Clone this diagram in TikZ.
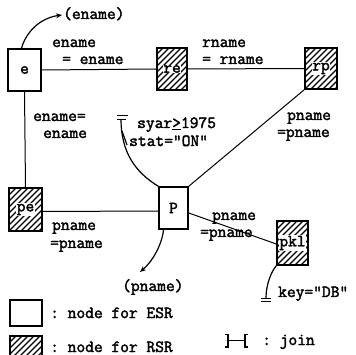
\documentclass[tikz,border=0pt]{standalone}
\usepackage{fontspec}
\setmonofont{Latin Modern Mono}[FakeBold=2.2]
\usetikzlibrary{calc,arrows.meta}
\tikzset{
  txt/.style={anchor=base west, inner sep=0pt, font=\ttfamily\fontsize{17}{17}\selectfont},
  nbox/.style={draw, line width=1.5pt, inner sep=0pt, font=\ttfamily\fontsize{17}{17}\selectfont},
  hatched/.style={path picture={\foreach \k in {-12,...,12}{\draw[line width=1.1pt] ($(path picture bounding box.south west)+(\k*6pt,0pt)$) -- ++(70pt,70pt);}}},
  edge/.style={line width=1pt},
  curve/.style={line width=1.2pt},
  arr/.style={curve, -{Stealth[length=6pt,width=5pt]}},
  bars/.style={line width=0.9pt}
}
\newcommand{\wlab}[1]{{\setlength{\fboxsep}{0.5pt}\colorbox{white}{#1}}}
\begin{document}
\begin{tikzpicture}[x=1pt,y=-1pt]
\useasboundingbox (0,0) rectangle (356,355);
\clip (0,0) rectangle (356,355);
% nodes
\node[nbox, minimum width=33pt, minimum height=42pt] (e) at (24.5,70) {e};
\node[nbox, hatched, minimum width=30pt, minimum height=42pt] (re) at (172,69) {\wlab{re}};
\node[nbox, hatched, minimum width=32pt, minimum height=41pt] (rp) at (321,68.5) {\wlab{rp}};
\node[nbox, hatched, minimum width=33pt, minimum height=43pt] (pe) at (25.5,209.5) {\wlab{pe}};
\node[nbox, minimum width=29pt, minimum height=42pt] (P) at (173.5,208) {P};
\node[nbox, hatched, minimum width=31pt, minimum height=44pt] (pk) at (292.5,243) {\wlab{pkl}};
% edges
\draw[edge] (e.east) -- (re.west);
\draw[edge] (re.east) -- (rp.west);
\draw[edge] (e.south) -- (pe.north);
\draw[edge] ([yshift=-2pt]pe.east) -- ([yshift=-3pt]P.west);
\draw[edge] (rp.south west) -- (P.north east);
\draw[edge] ([yshift=-5pt]P.east) -- ([yshift=-1pt]pk.west);
% curves
\coordinate (en) at (62,15);
\draw[arr] ([xshift=-3pt]e.north) .. controls (26,32) and (40,18) .. (en);
\coordinate (pn) at (140,272);
\draw[arr] ([xshift=-10pt]P.south) .. controls (162,245) and (152,262) .. (pn);
\coordinate (sel) at (121,119);
\draw[curve] (P.north west) .. controls (135,172) and (121,152) .. (sel);
\draw[bars] (117,115.5) -- (128,115.5) (117,119) -- (126,119);
\coordinate (br) at (122,131);
\draw[curve] (br) -- (127,145);
\coordinate (ky) at (266,298);
\draw[curve] (pk.south west) .. controls (271,272) and (266,285) .. (ky);
\draw[bars] (261,298) -- (271,298) (261,301.5) -- (271,301.5);
% labels
\node[txt] (l1) at (52,47) {ename};
\node[txt] (l2) at (62,64) {= ename};
\node[txt] (l3) at (202,47) {rname};
\node[txt] (l4) at (202,64) {= rname};
\node[txt] (l5) at (33,121) {ename=};
\node[txt] (l6) at (43,138) {ename};
\node[txt] (l7) at (287,120) {pname};
\node[txt] (l8) at (277,137) {=pname};
\node[txt] (l9) at (137,128) {syar\underline{>}1975};
\node[txt] (l10) at (129,146) {stat="ON"};
\node[txt] (l11) at (52,230) {pname};
\node[txt] (l12) at (50,248) {=pname};
\node[txt] (l13) at (212,220) {pname};
\node[txt] (l14) at (200,237) {=pname};
\node[txt] (l15) at (122,291) {(pname)};
\node[txt] (l16) at (63,19) {(ename)};
\node[txt] (l17) at (278,297) {key="DB"};
% legend
\node[nbox, minimum width=32pt, minimum height=26pt] (lg1) at (26,313) {};
\node[txt] (lt1) at (50,318) {: node for ESR};
\path[hatched] (10,336) rectangle (42,360);
\draw[line width=1.5pt] (10,360) -- (10,336) -- (42,336) -- (42,360);
\node[txt] (lt2) at (50,352) {: node for RSR};
\draw[line width=1.1pt] (225,334.5) -- (228,334.5) -- (228,347) -- (225,347);
\draw[line width=1.1pt] (228,340.5) -- (245,340.5);
\draw[line width=1.1pt] (248,334.5) -- (245,334.5) -- (245,347) -- (248,347);
\node[txt] (lt3) at (262,345) {: join};
\end{tikzpicture}
\end{document}
